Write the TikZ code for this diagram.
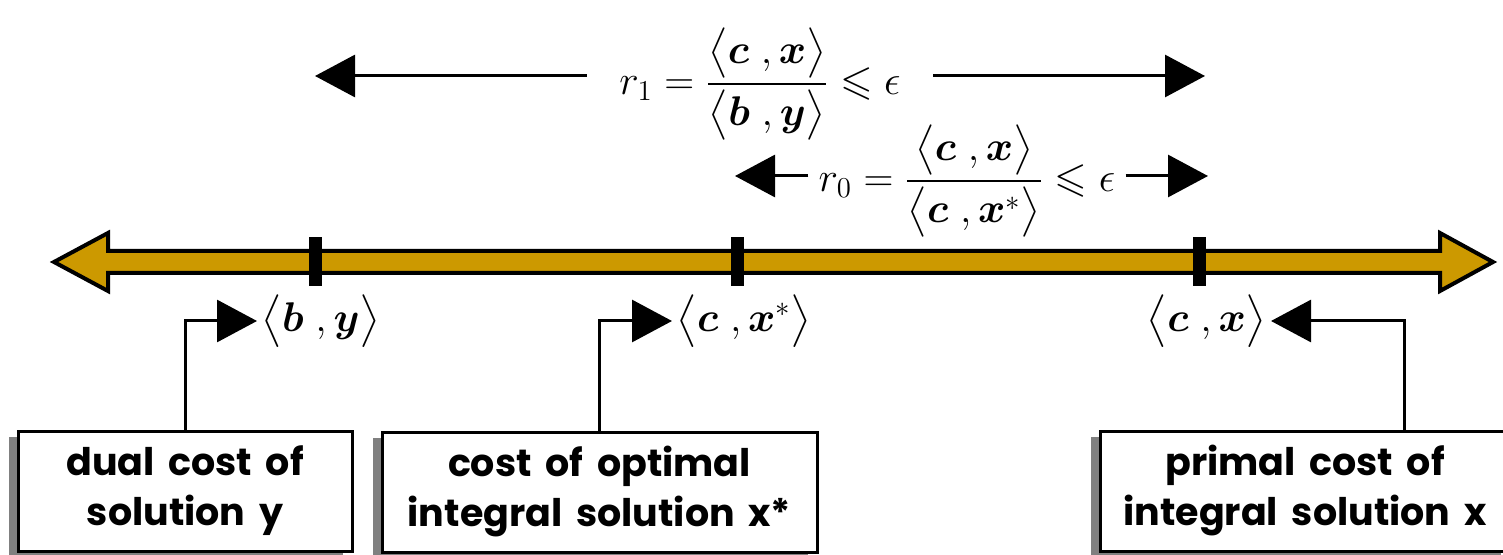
\documentclass[tikz,border=0pt]{standalone}
\usepackage{amsmath,amssymb}
\usepackage{fontspec}
\newfontfamily\boxfont{Poppins}[WordSpace=1.7]
\usetikzlibrary{arrows.meta,positioning,calc,shadows}
\definecolor{axisgold}{RGB}{204,153,0}
\definecolor{shade}{RGB}{128,128,128}
\tikzset{
  labelbox/.style={draw,line width=1.5pt,fill=white,align=center,inner sep=0pt,minimum height=60pt,
    font=\boxfont\bfseries\fontsize{19}{25}\selectfont,
    drop shadow={shadow xshift=-4.5pt,shadow yshift=-3pt,fill=shade,opacity=1}},
  tickmark/.style={fill=black,inner sep=0pt,minimum width=6.5pt,minimum height=24.5pt},
  mathlab/.style={font=\fontsize{22}{26}\selectfont,inner sep=2pt},
  ratio/.style={font=\fontsize{21}{25}\selectfont,inner ysep=1pt},
  span/.style={-{Triangle[length=20pt,width=21pt]},line width=1.5pt},
  pointer/.style={-{Triangle[length=20pt,width=21pt]},line width=1.5pt},
}

\begin{document}
\begin{tikzpicture}[x=0.5pt,y=-0.5pt]
\useasboundingbox (0,0) rectangle (1503,555);
% the two ratios, each spanning its interval
\node[ratio,inner xsep=16pt] (r1) at (760,84)
  {$r_1=\dfrac{\big\langle\boldsymbol{c}\;,\boldsymbol{x}\big\rangle}{\big\langle\boldsymbol{b}\;,\boldsymbol{y}\big\rangle}\leqslant\epsilon$};
\coordinate (r1l) at (315,76);
\coordinate (r1r) at (1205,76);
\draw[span] (r1.west |- r1l) -- (r1l);
\draw[span] (r1.east |- r1r) -- (r1r);
\node[ratio,inner xsep=5pt] (r0) at (967,181)
  {$r_0=\dfrac{\big\langle\boldsymbol{c}\;,\boldsymbol{x}\big\rangle}{\big\langle\boldsymbol{c}\;,\boldsymbol{x}^{*}\big\rangle}\leqslant\epsilon$};
\coordinate (r0l) at (735,176);
\coordinate (r0r) at (1208,176);
\draw[span] (r0.west |- r0l) -- (r0l);
\draw[span] (r0.east |- r0r) -- (r0r);
% cost axis
\draw[line width=2pt,fill=axisgold,line join=miter]
  (54,262) -- (108,233) -- (108,251) -- (1440,251) -- (1440,233) -- (1493,262)
  -- (1440,291) -- (1440,273) -- (108,273) -- (108,291) -- cycle;
\foreach \x/\n in {315/tb,737/tc,1199/tx}
  \node[tickmark] (\n) at (\x,262) {};
\node[mathlab,anchor=west] (by) at (257,321) {$\big\langle\boldsymbol{b}\;,\boldsymbol{y}\big\rangle$};
\node[mathlab,anchor=west] (cxs) at (672,321) {$\big\langle\boldsymbol{c}\;,\boldsymbol{x}^{*}\big\rangle$};
\node[mathlab,anchor=east] (cx) at (1271,321) {$\big\langle\boldsymbol{c}\;,\boldsymbol{x}\big\rangle$};
% boxes
\node[labelbox,minimum width=167pt] (dual) at (185,491) {dual cost of\\solution y};
\node[labelbox,minimum width=217.5pt] (opt) at (599.5,492) {cost of optimal\\integral solution x*};
\node[labelbox,minimum width=205pt] (primal) at (1305,491) {primal cost of\\integral solution x};
\draw[pointer] (dual) |- (by);
\draw[pointer] (opt) |- (cxs);
\draw[pointer] ($(primal.north west)!0.74!(primal.north east)$) |- (cx);
\end{tikzpicture}
\end{document}
